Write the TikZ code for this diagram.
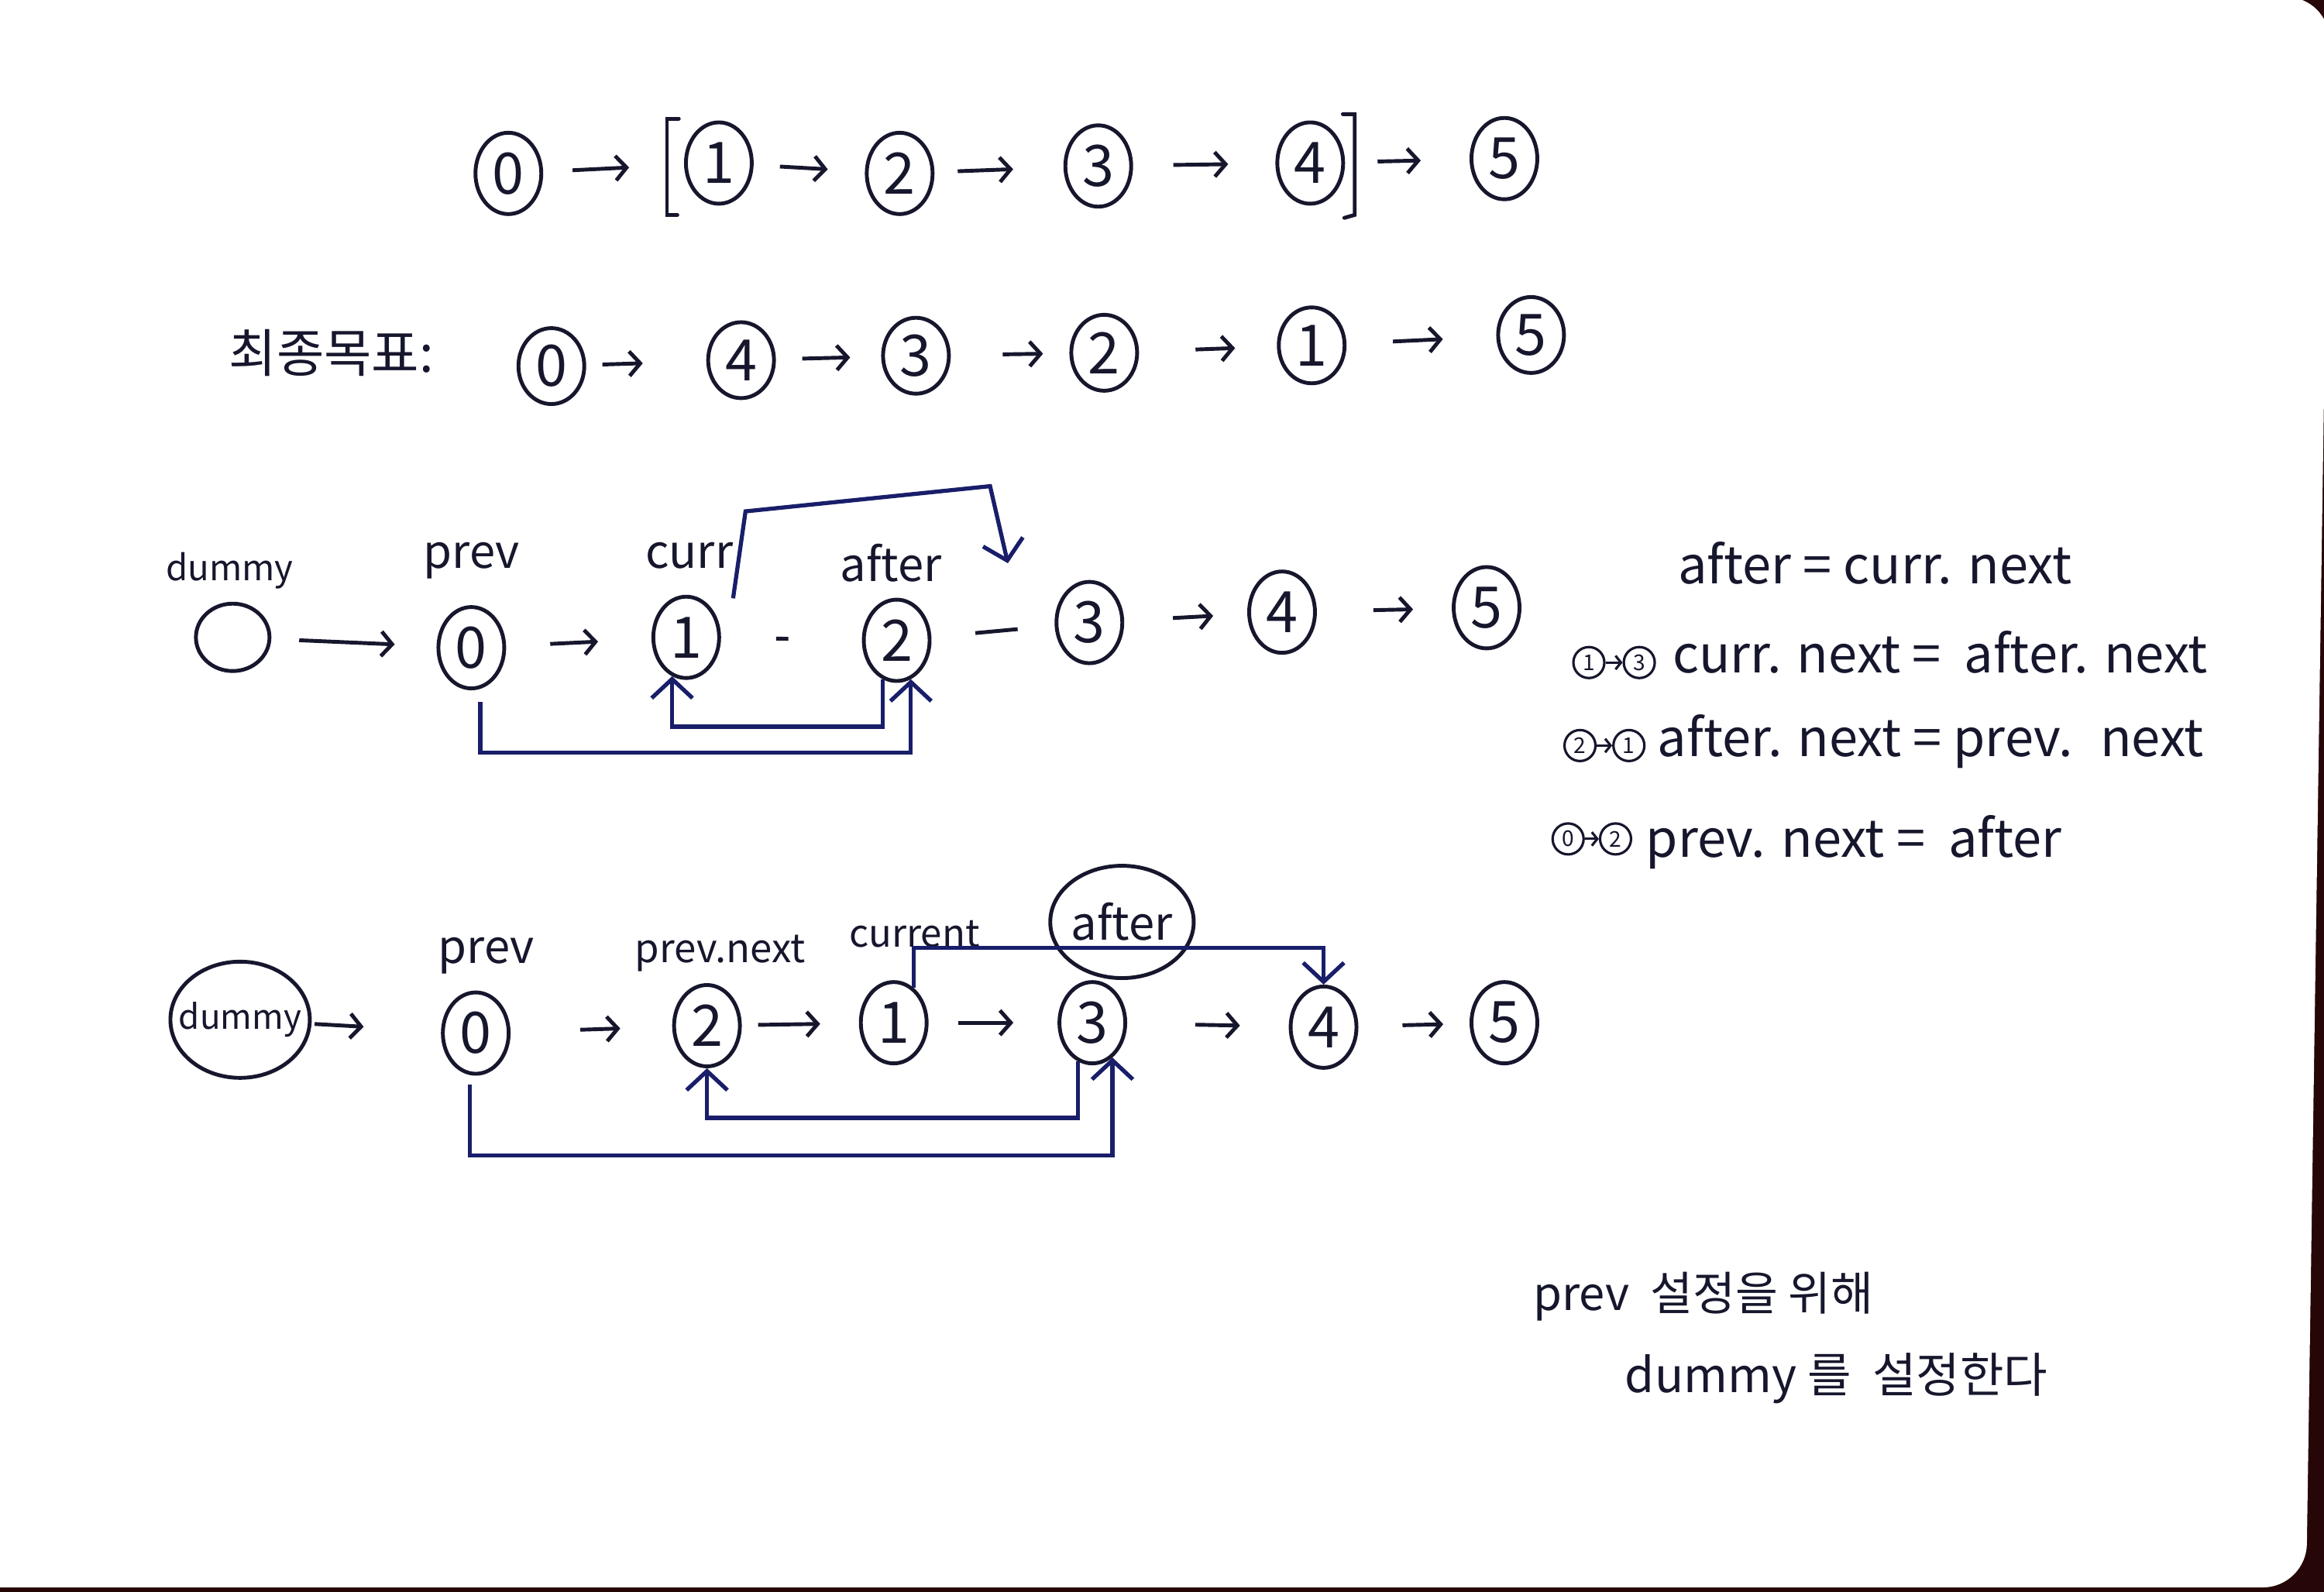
\documentclass[tikz,border=0pt]{standalone}
\usepackage{fontspec}
\setmainfont{Noto Sans CJK KR}
\usetikzlibrary{shapes.geometric,arrows.meta}
\definecolor{ink}{RGB}{22,22,45}
\definecolor{navy}{RGB}{24,30,105}
\definecolor{desk}{RGB}{38,6,6}

\tikzset{
 num/.style={draw=ink, ellipse, line width=1.4pt, inner sep=0pt, minimum width=0.85cm,
   minimum height=1.05cm, text=ink, font=\fontsize{21}{24}\selectfont},
 snum/.style={draw=ink, circle, line width=0.9pt, inner sep=0pt, minimum size=0.4cm,
   text=ink, font=\fontsize{8}{9}\selectfont},
 lbl/.style={text=ink, font=\fontsize{17}{20}\selectfont},
 eq/.style={text=ink, font=\fontsize{19}{22}\selectfont},
 link/.style={draw=ink, line width=1.4pt, -{Straight Barb[length=4pt,width=9pt]}},
 gap/.style={draw=ink, line width=1.4pt},
 relink/.style={draw=navy, line width=1.5pt, -{Straight Barb[length=7pt,width=15pt]}},
}

\begin{document}
\begin{tikzpicture}[x=0.019133cm, y=-0.019133cm]
 \useasboundingbox (0,0) rectangle (1568,1074);
 % paper on the desk
 \fill[desk] (0,0) rectangle (1568,1074);
 \fill[white, rounded corners=16pt] (-40,-2) -- (1572,-2) -- (1556,1071) -- (-40,1071) -- cycle;

 % row 1: the list
 \node[num] (a0) at (343,117) {0};
 \node[num] (a1) at (485,110) {1};
 \node[num] (a2) at (607,117) {2};
 \node[num] (a3) at (741,112) {3};
 \node[num] (a4) at (884,110) {4};
 \node[num] (a5) at (1015,107) {5};
 \draw[gap, line cap=round] (458,80) -- (450,80) -- (450,145) -- (457,145);
 \draw[gap, line cap=round] (906,77) -- (914,77) -- (914,145) -- (907,147);
 \draw[link, shorten <=0.38cm, shorten >=0.71cm] (a0) -- (a1);
 \draw[link, shorten <=0.34cm, shorten >=0.48cm] (a1) -- (a2);
 \draw[link, shorten <=0.30cm, shorten >=0.65cm] (a2) -- (a3);
 \draw[link, shorten <=0.52cm, shorten >=0.61cm] (a3) -- (a4);
 \draw[link, shorten <=0.42cm, shorten >=0.63cm] (a4) -- (a5);

 % row 2: goal
 \node[eq, anchor=west] (goal) at (148,238) {최종목표:};
 \node[num, minimum height=0.98cm] (b0) at (372,247) {0};
 \node[num, minimum height=0.98cm] (b4) at (500,243) {4};
 \node[num, minimum height=0.98cm] (b3) at (618,240) {3};
 \node[num, minimum height=0.98cm] (b2) at (745,238) {2};
 \node[num, minimum height=0.98cm] (b1) at (885,233) {1};
 \node[num, minimum height=0.98cm] (b5) at (1033,226) {5};
 \draw[link, shorten <=0.21cm, shorten >=0.82cm] (b0) -- (b4);
 \draw[link, shorten <=0.34cm, shorten >=0.40cm] (b4) -- (b3);
 \draw[link, shorten <=0.67cm, shorten >=0.34cm] (b3) -- (b2);
 \draw[link, shorten <=0.73cm, shorten >=0.54cm] (b2) -- (b1);
 \draw[link, shorten <=0.60cm, shorten >=0.69cm] (b1) -- (b5);

 % row 3: pointers before the swap
 \node[draw=ink, ellipse, line width=1.4pt, minimum width=0.95cm, minimum height=0.87cm] (cd) at (157,430) {};
 \node[lbl, font=\fontsize{13}{16}\selectfont] (ldummy3) at (155,385) {dummy};
 \node[num] (c0) at (318,437) {0};
 \node[lbl] (lprev3) at (318,378) {prev};
 \node[num] (c1) at (463,430) {1};
 \node[lbl] (lcurr3) at (465,375) {curr};
 \node[num] (c2) at (605,432) {2};
 \node[lbl] (lafter3) at (601,380) {after};
 \node[num] (c3) at (735,420) {3};
 \node[num] (c4) at (865,413) {4};
 \node[num] (c5) at (1003,410) {5};
 \draw[link, shorten <=0.36cm, shorten >=0.54cm] (cd) -- (c0);
 \draw[link, shorten <=0.57cm, shorten >=0.69cm] (c0) -- (c1);
 \draw[gap, shorten <=0.71cm, shorten >=0.95cm] (c1) -- (c2);
 \draw[gap, shorten <=0.57cm, shorten >=0.48cm] (c2) -- (c3);
 \draw[link, shorten <=0.63cm, shorten >=0.44cm] (c3) -- (c4);
 \draw[link, shorten <=0.73cm, shorten >=0.50cm] (c4) -- (c5);
 \coordinate (c23) at (680,380);
 \draw[relink] (c1.north east) ++(15,-6) -- (503,345) -- (668,328) -- (c23);
 \draw[relink] (c2.250) -- ++(0,32) -| (c1.250);
 \draw[relink] (c0.south) ++(6,8) -- ++(0,34) -| (c2.290);

 % row 4: pointers after the swap
 \node[draw=ink, ellipse, line width=1.4pt, minimum width=1.8cm, minimum height=1.5cm,
   inner xsep=-5pt, inner ysep=6pt, lbl, font=\fontsize{12.5}{15}\selectfont] (dd) at (162,688) {dummy};
 \node[num] (d0) at (321,697) {0};
 \node[lbl] (lprev4) at (328,645) {prev};
 \node[num] (d2) at (477,692) {2};
 \node[lbl, font=\fontsize{14.5}{17}\selectfont] (lprevnext4) at (486,643) {prev.next};
 \node[num] (d1) at (603,690) {1};
 \node[lbl, font=\fontsize{14}{17}\selectfont] (lcurr4) at (617,630) {current};
 \node[num] (d3) at (737,690) {3};
 \node[draw=ink, ellipse, line width=1.4pt, minimum width=1.7cm, minimum height=1.45cm,
   inner sep=0pt, lbl] (lafter4) at (757,622) {after};
 \node[num] (d4) at (893,693) {4};
 \node[num] (d5) at (1015,690) {5};
 \draw[link, shorten <=0.04cm, shorten >=1.0cm] (dd) -- (d0);
 \draw[link, shorten <=0.90cm, shorten >=0.67cm] (d0) -- (d2);
 \draw[link, shorten <=0.21cm, shorten >=0.50cm] (d2) -- (d1);
 \draw[link, shorten <=0.38cm, shorten >=0.57cm] (d1) -- (d3);
 \draw[link, shorten <=0.88cm, shorten >=0.63cm] (d3) -- (d4);
 \draw[link, shorten <=0.57cm, shorten >=0.34cm] (d4) -- (d5);
 \draw[relink] (d1.60) -- ++(0,-27) -| (d4.north);
 \draw[relink] (d3.250) -- ++(0,38) -| (d2.south);
 \draw[relink] (d0.south) ++(-4,6) -- ++(0,48) -| (d3.300);

 % steps on the right
 \node[eq] (eq1) at (1265,380) {after = curr. next};
 \node[snum] (e2a) at (1072,447) {1};
 \node[snum] (e2b) at (1106,447) {3};
 \draw[draw=ink, line width=0.9pt, -{Straight Barb[length=2pt,width=5pt]}] (e2a) -- (e2b);
 \node[eq, anchor=west] (eq2) at (1122,440) {curr. next = \ after. next};
 \node[snum] (e3a) at (1066,503) {2};
 \node[snum] (e3b) at (1099,503) {1};
 \draw[draw=ink, line width=0.9pt, -{Straight Barb[length=2pt,width=5pt]}] (e3a) -- (e3b);
 \node[eq, anchor=west] (eq3) at (1112,500) {after. next = prev. \ next};
 \node[snum] (e4a) at (1058,566) {0};
 \node[snum] (e4b) at (1090,566) {2};
 \draw[draw=ink, line width=0.9pt, -{Straight Barb[length=2pt,width=5pt]}] (e4a) -- (e4b);
 \node[eq, anchor=west] (eq4) at (1104,568) {prev. next = \ after};

 % note
 \node[eq, anchor=west, font=\fontsize{17}{20}\selectfont] (note1) at (1028,875) {prev \ 설정을 위해};
 \node[eq, anchor=west, font=\fontsize{17.5}{20}\selectfont] (note2) at (1090,930) {dummy 를 \ 설정한다};
\end{tikzpicture}
\end{document}
